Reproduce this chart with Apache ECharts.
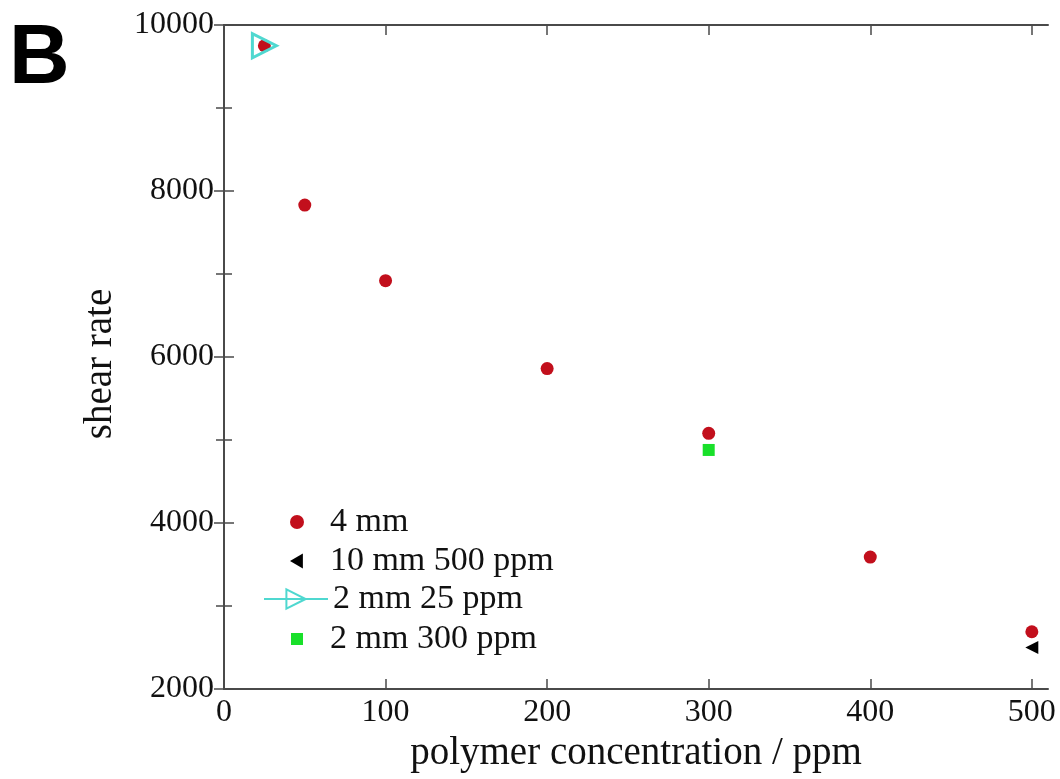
<!DOCTYPE html>
<html>
<head>
<meta charset="utf-8">
<script src="https://cdn.jsdelivr.net/npm/echarts@6/dist/echarts.min.js"></script>
<style>
  html, body { margin: 0; padding: 0; background: #fff; }
  #chart { width: 1060px; height: 779px; }
</style>
</head>
<body>
<div id="chart"></div>
<script>
// Shear rate versus polymer concentration for several channel sizes
const conc4mm = [25, 50, 100, 200, 300, 400, 500];
const shear4mm = [9750, 7830, 6920, 5860, 5080, 3590, 2690];
const conc10mm500 = [500];
const shear10mm500 = [2500];
const conc2mm25 = [25];
const shear2mm25 = [9750];
const conc2mm300 = [300];
const shear2mm300 = [4880];

const seriesNames = ['4 mm', '10 mm 500 ppm', '2 mm 25 ppm', '2 mm 300 ppm'];
const xTicks = [0, 100, 200, 300, 400, 500];
const yTicks = [2000, 4000, 6000, 8000, 10000];

const pairs = (xs, ys) => xs.map((x, i) => [x, ys[i]]);

const serif = 'Liberation Serif';
const axisColor = '#4a4a4a';
const plain = v => String(v);
// left-pointing triangle used as the legend key of the 10 mm series
const leftTriangle = 'path://M12,0 L12,14 L0,7 Z';

const baseAxis = {
  axisLine: { show: true, lineStyle: { color: axisColor, width: 2 } },
  axisTick: { show: true, inside: true, length: 10, lineStyle: { color: axisColor, width: 1.5 } },
  splitLine: { show: false }
};

const chart = echarts.init(document.getElementById('chart'));

const legendRow = (item, left, top, w, h, padLeft) => ({
  data: [item],
  orient: 'vertical',
  left: left,
  top: top,
  padding: 0,
  itemWidth: w,
  itemHeight: h,
  selectedMode: false,
  textStyle: { fontFamily: serif, fontSize: 34, color: '#111', padding: [0, 0, 0, padLeft] }
});

chart.setOption({
  animation: false,
  backgroundColor: '#fff',
  grid: { left: 224, top: 25, right: 12, bottom: 90, containLabel: false },
  graphic: [{
    type: 'text',
    left: 9,
    top: 18,
    style: { text: 'B', font: 'bold 84px "Liberation Sans"', fill: '#000' }
  }],
  legend: [
    legendRow(seriesNames[0], 290, 505, 14, 14, 21),
    legendRow({ name: seriesNames[1], icon: leftTriangle }, 290, 544, 13, 15, 22),
    legendRow(seriesNames[2], 263, 582, 64, 24, 0),
    legendRow(seriesNames[3], 291, 622, 12, 12, 22)
  ],
  xAxis: [
    Object.assign({}, baseAxis, {
      type: 'value', position: 'bottom', min: 0, max: 510, interval: 100,
      name: 'polymer concentration / ppm', nameLocation: 'middle', nameGap: 38,
      nameTextStyle: { fontFamily: serif, fontSize: 39, color: '#111' },
      axisLabel: {
        fontFamily: serif, fontSize: 32, color: '#111', margin: 8,
        customValues: xTicks, formatter: plain
      },
      axisTick: Object.assign({}, baseAxis.axisTick, { customValues: xTicks })
    }),
    Object.assign({}, baseAxis, {
      type: 'value', position: 'top', min: 0, max: 510, interval: 100,
      axisLabel: { show: false },
      axisTick: Object.assign({}, baseAxis.axisTick, { customValues: xTicks })
    })
  ],
  yAxis: [
    Object.assign({}, baseAxis, {
      type: 'value', position: 'left', min: 2000, max: 10000, interval: 2000,
      name: 'shear rate', nameLocation: 'middle', nameGap: 104,
      nameTextStyle: { fontFamily: serif, fontSize: 39, color: '#111', padding: [0, 14, 0, 0] },
      axisLabel: { fontFamily: serif, fontSize: 32, color: '#111', margin: 10, customValues: yTicks, formatter: plain },
      minorTick: { show: true, splitNumber: 2, length: 8, lineStyle: { color: axisColor, width: 1.5 } }
    }),
    Object.assign({}, baseAxis, {
      type: 'value', position: 'right', min: 2000, max: 10000, interval: 2000,
      axisLabel: { show: false },
      minorTick: { show: true, splitNumber: 2, length: 8, lineStyle: { color: axisColor, width: 1.5 } }
    })
  ],
  series: [
    {
      name: seriesNames[0], type: 'scatter', xAxisIndex: 0, yAxisIndex: 0,
      data: pairs(conc4mm, shear4mm),
      symbol: 'circle', symbolSize: 13,
      itemStyle: { color: '#c20f1c', opacity: 1 }
    },
    {
      name: seriesNames[1], type: 'scatter', xAxisIndex: 0, yAxisIndex: 0,
      data: pairs(conc10mm500, shear10mm500),
      symbol: 'triangle', symbolRotate: 90, symbolSize: 13,
      itemStyle: { color: '#000', opacity: 1 }
    },
    {
      name: seriesNames[2], type: 'line', xAxisIndex: 0, yAxisIndex: 0,
      data: pairs(conc2mm25, shear2mm25),
      symbol: 'triangle', symbolRotate: -90, symbolSize: 24,
      lineStyle: { color: '#4fd8d0', width: 2 },
      itemStyle: { color: 'rgba(255,255,255,0)', borderColor: '#4fd8d0', borderWidth: 3 }
    },
    {
      name: seriesNames[3], type: 'scatter', xAxisIndex: 0, yAxisIndex: 0,
      data: pairs(conc2mm300, shear2mm300),
      symbol: 'rect', symbolSize: 12,
      itemStyle: { color: '#19e02a', opacity: 1 }
    }
  ]
});
</script>
</body>
</html>
